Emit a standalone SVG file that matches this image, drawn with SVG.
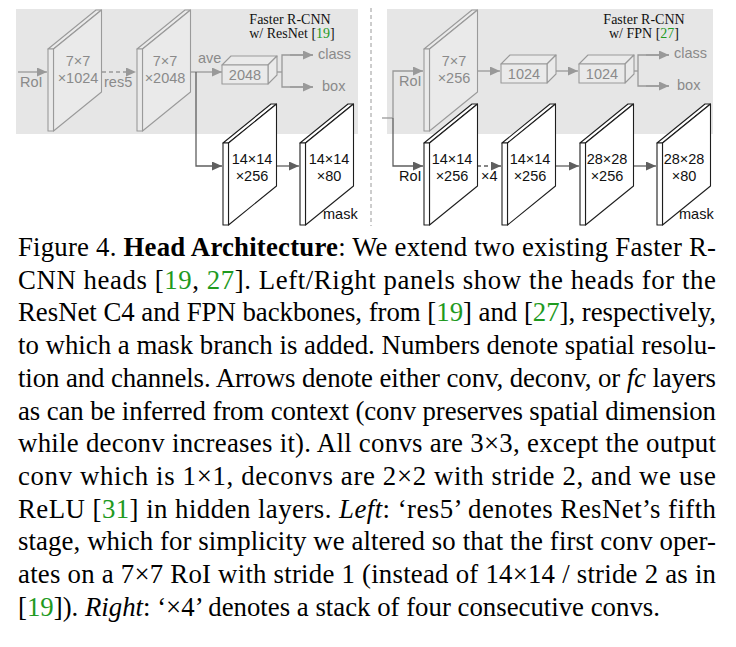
<svg xmlns="http://www.w3.org/2000/svg" xmlns:xlink="http://www.w3.org/1999/xlink" width="736" height="647" viewBox="0 0 736 647">
<style>
  .bg { fill: #e6e6e6; stroke: none; }
  .sg { fill: #eaeaea; stroke: #9a9a9a; stroke-width: 1.1; stroke-linejoin: round; }
  .sw { fill: #ffffff; stroke: #1e1e1e; stroke-width: 1.1; stroke-linejoin: round; }
  .lg { font-family: "Liberation Sans", Arial, sans-serif; font-size: 14.5px; fill: #8a8a8a; }
  .ld { font-family: "Liberation Sans", Arial, sans-serif; font-size: 14.5px; fill: #111111; }
  .mid { text-anchor: middle; }
  .ttl { font-family: "Liberation Serif", "Times New Roman", serif; font-size: 14px; fill: #111111; text-anchor: middle; }
  .cap { font-family: "Liberation Serif", "Times New Roman", serif; font-size: 26.8px; fill: #000000; }
  .cite { fill: #1f9a1f; }
  .ag { fill: none; stroke: #999999; stroke-width: 1.3; }
  .ad { fill: none; stroke: #5f5f5f; stroke-width: 1.3; }
  .dash { stroke-dasharray: 4 3; }
  .div { fill: none; stroke: #9a9a9a; stroke-width: 1; stroke-dasharray: 4 3; }
</style>
<defs>
  <marker id="mg" markerUnits="userSpaceOnUse" markerWidth="11" markerHeight="9" refX="10" refY="4.5" orient="auto">
    <path d="M0,0 L10,4.5 L0,9 Z" fill="#999999"/>
  </marker>
  <marker id="md" markerUnits="userSpaceOnUse" markerWidth="11" markerHeight="9" refX="10" refY="4.5" orient="auto">
    <path d="M0,0 L10,4.5 L0,9 Z" fill="#5f5f5f"/>
  </marker>
  <g id="slab">
    <polygon points="0,0 48,-39 53.5,-39 5.5,0"/>
    <polygon points="5.5,0 53.5,-39 53.5,43 5.5,82"/>
    <rect x="0" y="0" width="5.5" height="82"/>
  </g>
  <g id="box">
    <polygon points="0,0 9,-9 55,-9 46,0"/>
    <polygon points="46,0 55,-9 55,10 46,19"/>
    <rect x="0" y="0" width="46" height="19"/>
  </g>
</defs>

<rect class="bg" x="16" y="9" width="342" height="125"/>
<rect class="bg" x="387" y="9" width="326" height="125"/>
<line class="div" x1="371" y1="8" x2="371" y2="226"/>

<g id="titles">
  <text class="ttl" x="290" y="24">Faster R-CNN</text>
  <text class="ttl" x="292" y="38">w/ ResNet [<tspan class="cite">19</tspan>]</text>
  <text class="ttl" x="644" y="24">Faster R-CNN</text>
  <text class="ttl" x="644" y="38">w/ FPN [<tspan class="cite">27</tspan>]</text>
</g>

<g id="connectors">
  <line class="ag" x1="18" y1="72" x2="47" y2="72" marker-end="url(#mg)"/>
  <line class="ag dash" x1="102" y1="72" x2="136" y2="72" marker-end="url(#mg)"/>
  <line class="ag" x1="190" y1="72" x2="222" y2="72" marker-end="url(#mg)"/>
  <polyline class="ad" points="196,72 196,166 222,166" marker-end="url(#md)"/>
  <line class="ag" x1="277" y1="72" x2="282" y2="72"/>
  <polyline class="ag" points="313,55 282,55 282,87 313,87"/>
  <line class="ag" x1="290" y1="55" x2="313" y2="55" marker-end="url(#mg)"/>
  <line class="ag" x1="290" y1="87" x2="313" y2="87" marker-end="url(#mg)"/>
  <line class="ad" x1="277" y1="166" x2="299" y2="166" marker-end="url(#md)"/>

  <line class="ag" x1="382" y1="118" x2="393" y2="118"/>
  <polyline class="ag" points="393,118 393,71 423,71" marker-end="url(#mg)"/>
  <polyline class="ad" points="393,118 393,166 423,166" marker-end="url(#md)"/>
  <line class="ag" x1="477" y1="71" x2="500" y2="71" marker-end="url(#mg)"/>
  <line class="ag" x1="556" y1="71" x2="578" y2="71" marker-end="url(#mg)"/>
  <line class="ag" x1="634" y1="71" x2="638" y2="71"/>
  <polyline class="ag" points="669,55 638,55 638,86 669,86"/>
  <line class="ag" x1="646" y1="55" x2="669" y2="55" marker-end="url(#mg)"/>
  <line class="ag" x1="646" y1="86" x2="669" y2="86" marker-end="url(#mg)"/>
  <line class="ad dash" x1="477" y1="166" x2="501" y2="166" marker-end="url(#md)"/>
  <line class="ad" x1="555" y1="166" x2="579" y2="166" marker-end="url(#md)"/>
  <line class="ad" x1="633" y1="166" x2="656" y2="166" marker-end="url(#md)"/>
</g>

<g id="edge-labels">
  <text class="lg" x="20" y="87">RoI</text>
  <text class="lg" x="104" y="87">res5</text>
  <text class="lg" x="198" y="63">ave</text>
  <text class="lg" x="318" y="59">class</text>
  <text class="lg" x="322" y="91">box</text>
  <text class="lg" x="399" y="86">RoI</text>
  <text class="lg" x="674" y="58">class</text>
  <text class="lg" x="677" y="90">box</text>
  <text class="ld" x="399" y="181">RoI</text>
  <text class="ld" x="481" y="181">×4</text>
</g>

<g id="L-conv1024">
  <use xlink:href="#slab" class="sg" x="48" y="49"/>
  <text class="lg mid" x="78" y="66">7×7</text>
  <text class="lg mid" x="78" y="83">×1024</text>
</g>
<g id="L-conv2048">
  <use xlink:href="#slab" class="sg" x="137" y="49"/>
  <text class="lg mid" x="165" y="66">7×7</text>
  <text class="lg mid" x="165" y="83">×2048</text>
</g>
<g id="L-fc2048">
  <use xlink:href="#box" class="sg" x="222" y="65"/>
  <text class="lg mid" x="245" y="80">2048</text>
</g>
<g id="L-mask256">
  <use xlink:href="#slab" class="sw" x="223" y="143"/>
  <text class="ld mid" x="252" y="164">14×14</text>
  <text class="ld mid" x="252" y="181">×256</text>
</g>
<g id="L-mask80">
  <use xlink:href="#slab" class="sw" x="300" y="143"/>
  <text class="ld mid" x="329" y="164">14×14</text>
  <text class="ld mid" x="329" y="181">×80</text>
  <text class="ld" x="323" y="219">mask</text>
</g>

<g id="R-conv256">
  <use xlink:href="#slab" class="sg" x="424" y="49"/>
  <text class="lg mid" x="454" y="66">7×7</text>
  <text class="lg mid" x="454" y="83">×256</text>
</g>
<g id="R-fc1">
  <use xlink:href="#box" class="sg" x="501" y="64"/>
  <text class="lg mid" x="524" y="79">1024</text>
</g>
<g id="R-fc2">
  <use xlink:href="#box" class="sg" x="579" y="64"/>
  <text class="lg mid" x="602" y="79">1024</text>
</g>
<g id="R-mask1">
  <use xlink:href="#slab" class="sw" x="424" y="143"/>
  <text class="ld mid" x="452" y="164">14×14</text>
  <text class="ld mid" x="452" y="181">×256</text>
</g>
<g id="R-mask2">
  <use xlink:href="#slab" class="sw" x="502" y="143"/>
  <text class="ld mid" x="530" y="164">14×14</text>
  <text class="ld mid" x="530" y="181">×256</text>
</g>
<g id="R-mask3">
  <use xlink:href="#slab" class="sw" x="580" y="143"/>
  <text class="ld mid" x="607" y="164">28×28</text>
  <text class="ld mid" x="607" y="181">×256</text>
</g>
<g id="R-mask4">
  <use xlink:href="#slab" class="sw" x="657" y="143"/>
  <text class="ld mid" x="684" y="164">28×28</text>
  <text class="ld mid" x="684" y="181">×80</text>
  <text class="ld" x="679" y="219">mask</text>
</g>

<g id="caption">
  <text class="cap" x="18" y="256" textLength="698" lengthAdjust="spacing">Figure 4. <tspan font-weight="bold">Head Architecture</tspan>:  We extend two existing Faster R-</text>
  <text class="cap" x="18" y="289" textLength="698" lengthAdjust="spacing">CNN heads [<tspan class="cite">19</tspan>, <tspan class="cite">27</tspan>].  Left/Right panels show the heads for the</text>
  <text class="cap" x="18" y="321" textLength="698" lengthAdjust="spacing">ResNet C4 and FPN backbones, from [<tspan class="cite">19</tspan>] and [<tspan class="cite">27</tspan>], respectively,</text>
  <text class="cap" x="18" y="354" textLength="698" lengthAdjust="spacing">to which a mask branch is added. Numbers denote spatial resolu-</text>
  <text class="cap" x="18" y="387" textLength="698" lengthAdjust="spacing">tion and channels. Arrows denote either conv, deconv, or <tspan font-style="italic">fc</tspan> layers</text>
  <text class="cap" x="18" y="420" textLength="698" lengthAdjust="spacing">as can be inferred from context (conv preserves spatial dimension</text>
  <text class="cap" x="18" y="452" textLength="698" lengthAdjust="spacing">while deconv increases it).  All convs are 3×3, except the output</text>
  <text class="cap" x="18" y="485" textLength="698" lengthAdjust="spacing">conv which is 1×1, deconvs are 2×2 with stride 2, and we use</text>
  <text class="cap" x="18" y="518" textLength="698" lengthAdjust="spacing">ReLU [<tspan class="cite">31</tspan>] in hidden layers.  <tspan font-style="italic">Left</tspan>: ‘res5’ denotes ResNet’s fifth</text>
  <text class="cap" x="18" y="550" textLength="698" lengthAdjust="spacing">stage, which for simplicity we altered so that the first conv oper-</text>
  <text class="cap" x="18" y="583" textLength="698" lengthAdjust="spacing">ates on a 7×7 RoI with stride 1 (instead of 14×14 / stride 2 as in</text>
  <text class="cap" x="18" y="616">[<tspan class="cite">19</tspan>]). <tspan font-style="italic">Right</tspan>: ‘×4’ denotes a stack of four consecutive convs.</text>
</g>
</svg>
